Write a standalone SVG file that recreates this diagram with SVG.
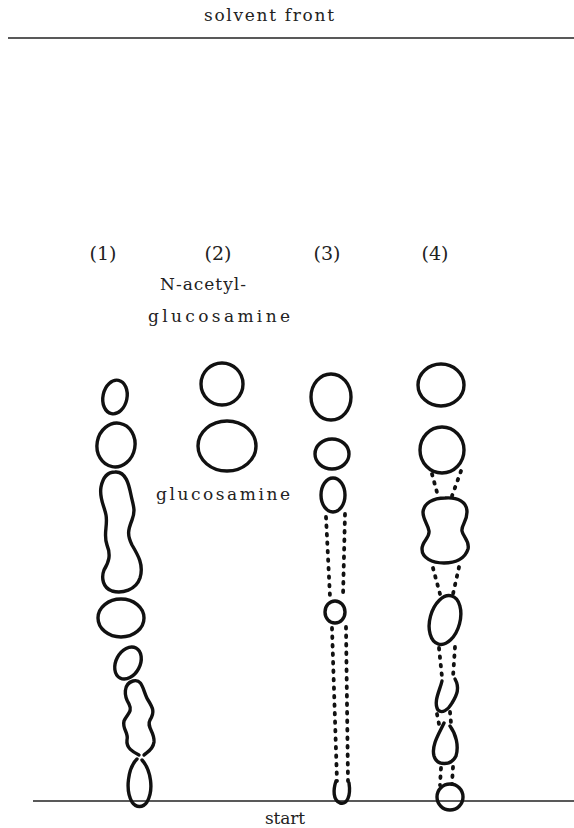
<svg xmlns="http://www.w3.org/2000/svg" width="574" height="828" viewBox="0 0 574 828">
  <style>
    .lbl { font-family: "DejaVu Serif", "Liberation Serif", serif; font-size: 17px; fill: #222; }
    .num { font-size: 19px; }
    .spot { fill: none; stroke: #111; stroke-width: 3.4; stroke-linejoin: round; stroke-linecap: round; }
    .trail { fill: none; stroke: #111; stroke-width: 3.8; stroke-linecap: round; stroke-dasharray: 1.5 7; }
    .base { stroke: #222; stroke-width: 1.6; fill: none; }
  </style>

  <!-- reference lines -->
  <g id="front">
    <line class="base" x1="8" y1="38" x2="574" y2="38"/>
    <text class="lbl" x="269" y="21" text-anchor="middle" textLength="130" lengthAdjust="spacing">solvent front</text>
  </g>
  <g id="origin">
    <line class="base" x1="33" y1="801" x2="574" y2="801"/>
    <text class="lbl" x="285" y="824" text-anchor="middle" textLength="40" lengthAdjust="spacing">start</text>
  </g>

  <!-- lane headings -->
  <g id="headings">
    <text class="lbl num" x="103" y="260" text-anchor="middle">(1)</text>
    <text class="lbl num" x="218" y="260" text-anchor="middle">(2)</text>
    <text class="lbl num" x="327" y="260" text-anchor="middle">(3)</text>
    <text class="lbl num" x="435" y="260" text-anchor="middle">(4)</text>
    <text class="lbl" x="203" y="290" text-anchor="middle" textLength="86" lengthAdjust="spacing">N-acetyl-</text>
    <text class="lbl" x="219" y="322" text-anchor="middle" textLength="142" lengthAdjust="spacing">glucosamine</text>
    <text class="lbl" x="223" y="500" text-anchor="middle" textLength="134" lengthAdjust="spacing">glucosamine</text>
  </g>

  <!-- lane 1 -->
  <g id="lane1">
    <ellipse class="spot" cx="115" cy="397" rx="12" ry="17" transform="rotate(12 115 397)"/>
    <ellipse class="spot" cx="116" cy="445" rx="19" ry="22" transform="rotate(10 116 445)"/>
    <path class="spot" d="M115,472 C126,471 129,485 131,495 C133,505 136,510 132,520 C128,530 127,535 132,545 C138,555 144,565 140,578 C136,590 122,594 112,591 C103,588 101,578 104,570 C109,562 111,555 107,545 C103,535 108,525 106,515 C104,505 99,498 101,487 C103,477 108,472 115,472 Z"/>
    <ellipse class="spot" cx="121" cy="618" rx="23" ry="19"/>
    <ellipse class="spot" cx="128" cy="663" rx="12" ry="17" transform="rotate(28 128 663)"/>
    <path class="spot" d="M139,755 C133,752 126,748 127,740 C129,733 122,729 124,721 C127,714 133,712 129,704 C124,696 123,684 133,681 C143,678 143,692 148,700 C153,708 155,712 150,720 C146,727 155,732 154,742 C153,750 147,752 144,755"/>
    <path class="spot" d="M137,759 C128,768 125,790 132,802 C136,808 143,808 147,802 C154,790 151,770 142,760"/>
  </g>

  <!-- lane 2 -->
  <g id="lane2">
    <ellipse class="spot" cx="222" cy="384" rx="21" ry="21"/>
    <ellipse class="spot" cx="227" cy="446" rx="29" ry="25"/>
  </g>

  <!-- lane 3 -->
  <g id="lane3">
    <ellipse class="spot" cx="331" cy="397" rx="20" ry="23"/>
    <ellipse class="spot" cx="332" cy="454" rx="17" ry="15"/>
    <ellipse class="spot" cx="333" cy="495" rx="12" ry="17"/>
    <ellipse class="spot" cx="335" cy="612" rx="10" ry="11"/>
    <path class="spot" d="M336,781 C333,790 333,800 340,803 C347,805 351,796 349,783"/>
  </g>

  <!-- lane 4 -->
  <g id="lane4">
    <ellipse class="spot" cx="441" cy="385" rx="23" ry="21"/>
    <ellipse class="spot" cx="442" cy="450" rx="22" ry="23"/>
    <path class="spot" d="M445,498 C458,497 467,502 467,512 C467,522 461,525 462,531 C463,537 470,541 468,549 C465,559 455,563 444,563 C432,563 422,558 422,549 C422,541 430,538 429,531 C428,524 423,520 423,512 C424,503 433,498 445,498 Z"/>
    <ellipse class="spot" cx="445" cy="620" rx="15" ry="25" transform="rotate(15 445 620)"/>
    <path class="spot" d="M442,681 C440,690 433,702 438,710 C442,714 448,710 452,703 C457,695 460,688 455,679"/>
    <path class="spot" d="M444,723 C440,732 431,745 434,756 C437,766 451,766 456,756 C459,746 456,734 450,726"/>
    <circle class="spot" cx="450" cy="797" r="13"/>
  </g>

  <!-- streaks between spots -->
  <g id="connectors">
    <line class="trail" x1="326" y1="517" x2="330" y2="597"/>
    <line class="trail" x1="345" y1="514" x2="343" y2="597"/>
    <line class="trail" x1="332" y1="628" x2="337" y2="781"/>
    <line class="trail" x1="346" y1="627" x2="348" y2="781"/>
    <line class="trail" x1="432" y1="474" x2="438" y2="496"/>
    <line class="trail" x1="461" y1="471" x2="452" y2="496"/>
    <line class="trail" x1="433" y1="568" x2="440" y2="594"/>
    <line class="trail" x1="459" y1="567" x2="453" y2="594"/>
    <line class="trail" x1="439" y1="648" x2="442" y2="677"/>
    <line class="trail" x1="455" y1="647" x2="453" y2="677"/>
    <line class="trail" x1="437" y1="714" x2="439" y2="724"/>
    <line class="trail" x1="450" y1="712" x2="451" y2="723"/>
    <line class="trail" x1="441" y1="768" x2="440" y2="785"/>
    <line class="trail" x1="453" y1="767" x2="452" y2="784"/>
  </g>
</svg>
